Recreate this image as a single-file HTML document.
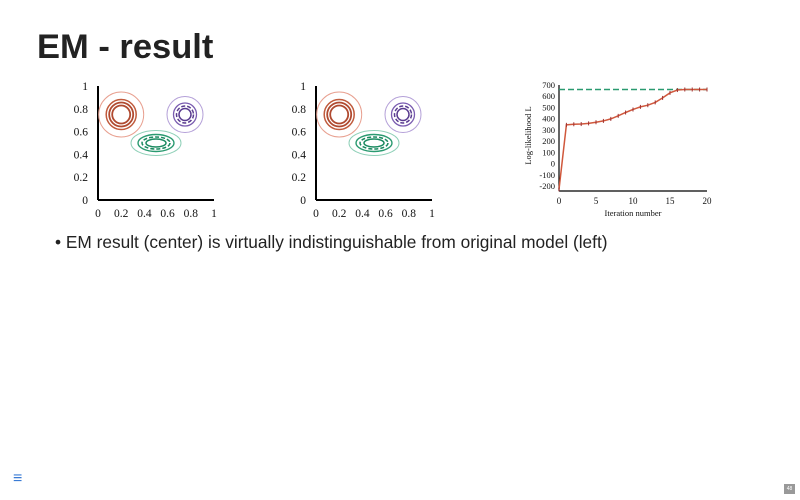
<!DOCTYPE html>
<html><head><meta charset="utf-8"><style>
body{margin:0;width:800px;height:500px;background:#fff;overflow:hidden;position:relative;font-family:"Liberation Sans",sans-serif}
#title{position:absolute;left:37px;top:28px;font-size:34.5px;font-weight:bold;color:#222;margin:0}
#bullet{position:absolute;left:55px;top:232px;font-size:17.3px;color:#222}
svg{position:absolute;left:0;top:0}
</style></head><body>
<h1 id="title">EM - result</h1>
<div id="bullet">• EM result (center) is virtually indistinguishable from original model (left)</div>
<svg id="s" width="800" height="500"></svg>
<div style="position:absolute;left:13px;top:470px;color:#3a7bd5;font-size:16px">≡</div>
<div style="position:absolute;left:784px;top:484px;width:11px;height:10px;background:#999;color:#fff;font-size:5px;text-align:center;line-height:10px">48</div>
<script>
const contourTicks=[0,0.2,0.4,0.6,0.8,1];
const llIter=[0,1,2,3,4,5,6,7,8,9,10,11,12,13,14,15,16,17,18,19,20];
const llValues=[-230,345,350,352,358,368,380,398,425,455,482,505,520,545,585,630,655,660,660,660,660];
const llTrue=660;
const yTicks=[-200,-100,0,100,200,300,400,500,600,700];
const xTicks=[0,5,10,15,20];
const NS="http://www.w3.org/2000/svg",S=document.getElementById('s');
function el(t,a,p){const e=document.createElementNS(NS,t);for(const k in a)e.setAttribute(k,a[k]);(p||S).appendChild(e);return e;}
function txt(x,y,s,a,sz){const e=el('text',{x:x,y:y,'font-family':'Liberation Serif,serif','font-size':sz||11,'text-anchor':a||'middle',fill:'#111'});e.textContent=s;return e;}
function contour(ox,name){
  const g=el('g',{});
  
  
  const X=v=>ox+v*116, Y=v=>200-v*114;
  el('line',{x1:X(0),y1:200,x2:X(1),y2:200,stroke:'#000','stroke-width':2},g);
  el('line',{x1:X(0),y1:200,x2:X(0),y2:86,stroke:'#000','stroke-width':2},g);
  contourTicks.forEach(t=>{txt(X(t),217,String(t),'middle',11.5);
    txt(X(0)-10,Y(t)+4,String(t),'end',11.5);});
  [[22.5,'#e8a090',1],[15,'#c05a3c',1.5],[12,'#b04a30',1.8],[9,'#b04a30',1.8]].forEach(r=>el('circle',{cx:X(0.2),cy:Y(0.75),r:r[0],fill:'none',stroke:r[1],'stroke-width':r[2]},g));
  [[18,'#b4a0d8',1,''],[11.5,'#7a5cb0',1.3,''],[8.5,'#5a3c90',1.5,'4,2'],[6,'#5a3c90',1.5,'']].forEach(r=>el('circle',{cx:X(0.75),cy:Y(0.75),r:r[0],fill:'none',stroke:r[1],'stroke-width':r[2],'stroke-dasharray':r[3]},g));
  [[25,12.5,'#8fd0b8',1,''],[18,8.5,'#2a9a70',1.4,''],[14,6,'#1a8a60',1.5,'4,2'],[10,4,'#1a8a60',1.5,'']].forEach(r=>el('ellipse',{cx:X(0.5),cy:Y(0.5),rx:r[0],ry:r[1],fill:'none',stroke:r[2],'stroke-width':r[3],'stroke-dasharray':r[4]},g));
}
contour(98,'original-model-contours');
contour(316,'em-result-contours');
const X=v=>559+v*(148/20), Y=v=>186-(v+200)*(101/900);
const g=el('g',{});


el('line',{x1:X(0),y1:191,x2:X(20),y2:191,stroke:'#000','stroke-width':1.2},g);
el('line',{x1:X(0),y1:191,x2:X(0),y2:Y(700),stroke:'#000','stroke-width':1.2},g);
yTicks.forEach(t=>{const e=txt(X(0)-4,Y(t)+3,String(t),'end',8.5);});
xTicks.forEach(t=>{const e=txt(X(t),204,String(t),'middle',9);});
const xt=txt(X(10),216,'Iteration number','middle',8.5);

const yt=txt(0,0,'Log-likelihood L','middle',8.5);
yt.setAttribute('transform','translate(531,'+Y(250)+') rotate(-90)');

const tl=el('line',{x1:X(0),y1:Y(llTrue),x2:X(20),y2:Y(llTrue),stroke:'#2a9a70','stroke-width':1.5,'stroke-dasharray':'6,3'},g);

const pl=el('polyline',{points:llIter.map((x,i)=>X(x)+','+Y(llValues[i])).join(' '),fill:'none',stroke:'#d0583c','stroke-width':1.5},g);

llIter.forEach((x,i)=>{const m=el('line',{x1:X(x),y1:Y(llValues[i])-2,x2:X(x),y2:Y(llValues[i])+2,stroke:'#a03030','stroke-width':1},g);
});
</script>
</body></html>
